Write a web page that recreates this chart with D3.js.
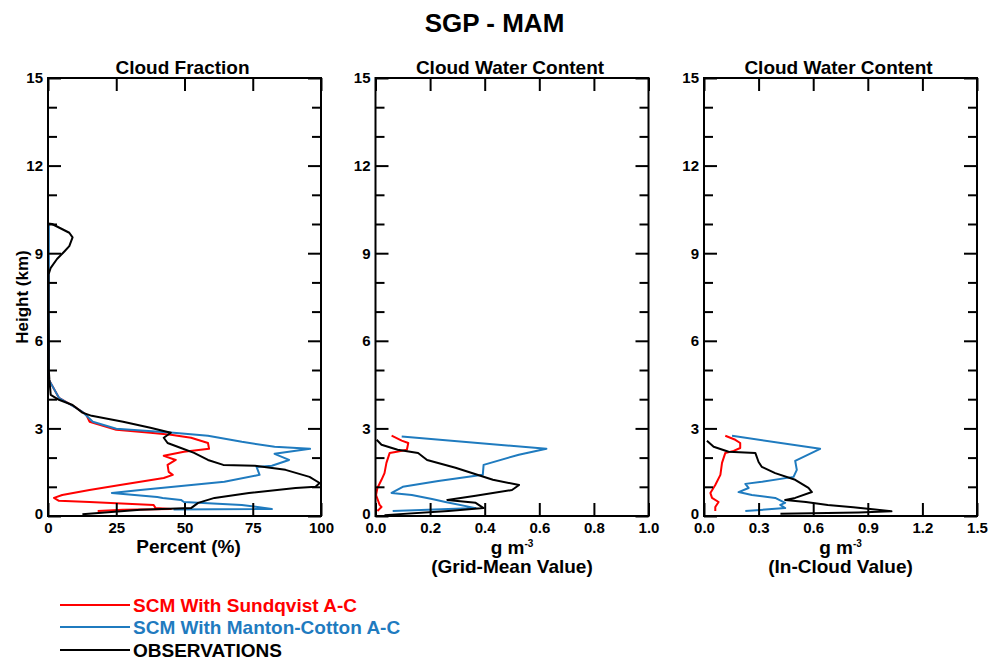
<!DOCTYPE html>
<html>
<head>
<meta charset="utf-8">
<script src="https://cdn.jsdelivr.net/npm/d3@7"></script>
<style>
  body { margin: 0; background: #fff; }
  svg { display: block; }
  text { font-family: "Liberation Sans", Arial, sans-serif; font-weight: bold; fill: #000; }
</style>
</head>
<body>
<svg width="989" height="659"></svg>
<script>
// Profiles: [height km, value]
const cfSundqvist = [[10,0],[4.67,0.3],[4.05,4],[3.7,10.4],[3.47,14],[3.23,15.2],[2.95,25],[2.85,37.5],[2.78,45],[2.68,52.4],[2.5,58.6],[2.3,59],[2.2,49.8],[2.06,42.4],[1.92,46.8],[1.75,43.8],[1.51,44.2],[1.41,45.7],[1.3,42.4],[1.06,26.4],[0.89,15.2],[0.72,5.2],[0.62,2.2],[0.52,4],[0.48,15.2],[0.38,38.7],[0.27,39.4],[0.24,45],[0.21,27.5],[0.17,18.2]];
const cfManton = [[10,0.3],[4.67,0.3],[4.05,4],[3.57,12.6],[3.23,16.4],[2.99,25],[2.85,46],[2.75,58.6],[2.54,71],[2.37,83],[2.3,96],[2.13,83],[1.92,88.3],[1.72,82],[1.68,76.4],[1.41,77.5],[1.17,64.6],[1.0,46],[0.89,33.8],[0.79,23.4],[0.65,40],[0.62,42],[0.55,48.7],[0.48,49.8],[0.38,71],[0.24,82],[0.22,46]];
const cfObs = [[10.02,0],[10.0,1.5],[9.88,4],[9.7,7.8],[9.54,9],[9.24,7.8],[9.06,6],[8.8,3.3],[8.5,1],[8.27,0.2],[7,0.2],[6,0.3],[5,0.3],[4.67,0.5],[4.15,1],[3.98,4],[3.8,9],[3.54,12.6],[3.43,16],[3.23,27.5],[3.02,37.5],[2.85,45],[2.68,42.4],[2.5,43.8],[2.33,48.7],[2.16,53.5],[1.92,58.6],[1.75,64.2],[1.72,75.8],[1.58,87],[1.34,95.8],[1.13,99.5],[1.0,98],[0.96,90.7],[0.79,73.6],[0.62,61],[0.45,55],[0.27,52.4],[0.21,33.8],[0.06,12.6]];

const gmSundqvist = [[2.75,0.059],[2.58,0.096],[2.5,0.12],[2.27,0.115],[2.2,0.078],[2.16,0.052],[1.82,0.04],[1.47,0.033],[1.24,0.022],[0.96,0.007],[0.72,0.002],[0.38,0.015],[0.31,0.022],[0.17,0.007]];
const gmManton = [[2.72,0.096],[2.3,0.626],[2.1,0.525],[1.75,0.396],[1.41,0.393],[1.2,0.23],[1.0,0.1],[0.79,0.059],[0.72,0.133],[0.58,0.207],[0.48,0.256],[0.27,0.367],[0.17,0.063]];
const gmObs = [[2.61,0.004],[2.44,0.022],[2.27,0.081],[2.16,0.156],[1.92,0.189],[1.65,0.293],[1.24,0.43],[1.06,0.526],[0.89,0.5],[0.69,0.367],[0.55,0.263],[0.45,0.367],[0.27,0.396],[0.17,0.267],[0.03,0.033]];

const icSundqvist = [[2.75,0.117],[2.61,0.172],[2.5,0.199],[2.33,0.199],[2.23,0.163],[2.16,0.117],[1.82,0.099],[1.41,0.09],[1.06,0.062],[0.79,0.035],[0.62,0.044],[0.48,0.08],[0.31,0.062],[0.17,0.062]];
const icManton = [[2.75,0.154],[2.3,0.638],[1.89,0.501],[1.58,0.51],[1.34,0.492],[1.17,0.318],[1.1,0.227],[0.96,0.245],[0.82,0.19],[0.72,0.263],[0.62,0.391],[0.45,0.446],[0.38,0.419],[0.27,0.446],[0.17,0.227]];
const icObs = [[2.58,0.016],[2.37,0.053],[2.2,0.135],[2.16,0.282],[1.85,0.3],[1.68,0.318],[1.47,0.391],[1.24,0.501],[0.96,0.574],[0.82,0.593],[0.62,0.501],[0.55,0.446],[0.48,0.56],[0.38,0.68],[0.3,0.82],[0.22,0.94],[0.16,1.03],[0.12,0.85],[0.08,0.42]];

const panelTitles = ["Cloud Fraction", "Cloud Water Content", "Cloud Water Content"];
const xMax = [100, 1.0, 1.5];
const xTicks = [[0,25,50,75,100],[0,0.2,0.4,0.6,0.8,1.0],[0,0.3,0.6,0.9,1.2,1.5]];
const yMajor = [0,3,6,9,12,15];
const yMinor = d3.range(0, 16, 1).filter(v => v % 3 !== 0);
const seriesNames = ["SCM With Sundqvist A-C", "SCM With Manton-Cotton A-C", "OBSERVATIONS"];
const seriesColors = ["#ff0000", "#1f7bbf", "#000000"];
const panelSeries = [
  [cfSundqvist, cfManton, cfObs],
  [gmSundqvist, gmManton, gmObs],
  [icSundqvist, icManton, icObs]
];

const svg = d3.select("svg");
const plotTop = 78, plotBottom = 516, pw = 273;
const lefts = [48, 375.5, 704];

svg.append("text").attr("x", 494.5).attr("y", 32).attr("text-anchor", "middle")
  .style("font-size", "26px").text("SGP - MAM");

const y = d3.scaleLinear().domain([0, 15]).range([plotBottom, plotTop]);

panelSeries.forEach((series, i) => {
  const g = svg.append("g").attr("transform", `translate(${lefts[i]},0)`);
  const x = d3.scaleLinear().domain([0, xMax[i]]).range([0, pw]);
  const fmt = i === 0 ? d3.format("d") : d3.format(".1f");

  // data lines
  const line = d3.line().x(d => x(d[1])).y(d => y(d[0]));
  series.forEach((s, k) => {
    g.append("path").datum(s).attr("d", line)
      .attr("fill", "none").attr("stroke", seriesColors[k])
      .attr("stroke-width", 2).attr("stroke-linejoin", "round");
  });

  // axes, ticks inward
  g.append("g").attr("transform", `translate(0,${plotBottom})`)
    .call(d3.axisBottom(x).tickValues(xTicks[i]).tickSize(-13).tickPadding(6).tickFormat(fmt));
  g.append("g").attr("transform", `translate(0,${plotTop})`)
    .call(d3.axisTop(x).tickValues(xTicks[i]).tickSize(-13).tickFormat(""));
  const yl = g.append("g").call(d3.axisLeft(y).tickValues(yMajor).tickSize(-13).tickPadding(5).tickFormat(d3.format("d")));
  yl.selectAll(".tick text").filter(d => d === 0).attr("dy", "0.15em");
  g.append("g").call(d3.axisLeft(y).tickValues(yMinor).tickSize(-9).tickFormat(""));
  g.append("g").attr("transform", `translate(${pw},0)`)
    .call(d3.axisRight(y).tickValues(yMajor).tickSize(-13).tickFormat(""));
  g.append("g").attr("transform", `translate(${pw},0)`)
    .call(d3.axisRight(y).tickValues(yMinor).tickSize(-9).tickFormat(""));
  g.selectAll(".domain").remove();
  g.selectAll(".tick line").attr("stroke", "#000").attr("stroke-width", 2);
  g.selectAll(".tick text").style("font-size", "15px").attr("fill", "#000")
    .style("font-family", "'Liberation Sans', Arial, sans-serif");

  g.append("rect").attr("x", 0).attr("y", plotTop).attr("width", pw).attr("height", plotBottom - plotTop)
    .attr("fill", "none").attr("stroke", "#000").attr("stroke-width", 2);

  g.append("text").attr("x", pw / 2 - 2).attr("y", 74).attr("text-anchor", "middle")
    .style("font-size", "19px").text(panelTitles[i]);

  if (i === 0) {
    g.append("text").attr("x", pw / 2 + 4).attr("y", 553).attr("text-anchor", "middle")
      .style("font-size", "19px").text("Percent (%)");
  } else {
    const t = g.append("text").attr("x", pw / 2).attr("y", 554).attr("text-anchor", "middle")
      .style("font-size", "19px");
    t.append("tspan").text("g m");
    t.append("tspan").attr("dy", -7).style("font-size", "10px").text("-3");
    g.append("text").attr("x", pw / 2).attr("y", 573).attr("text-anchor", "middle")
      .style("font-size", "19px").text(i === 1 ? "(Grid-Mean Value)" : "(In-Cloud Value)");
  }
});

svg.append("text").attr("transform", `translate(28,${(plotTop + plotBottom) / 2}) rotate(-90)`)
  .attr("text-anchor", "middle").style("font-size", "17px").text("Height (km)");

// legend
const legY = [605, 627, 650];
seriesNames.forEach((name, k) => {
  svg.append("line").attr("x1", 60).attr("x2", 130).attr("y1", legY[k]).attr("y2", legY[k])
    .attr("stroke", seriesColors[k]).attr("stroke-width", 2);
  svg.append("text").attr("x", 133).attr("y", legY[k] + 6.5)
    .style("font-size", "19px").style("fill", seriesColors[k]).text(name);
});
</script>
</body>
</html>
